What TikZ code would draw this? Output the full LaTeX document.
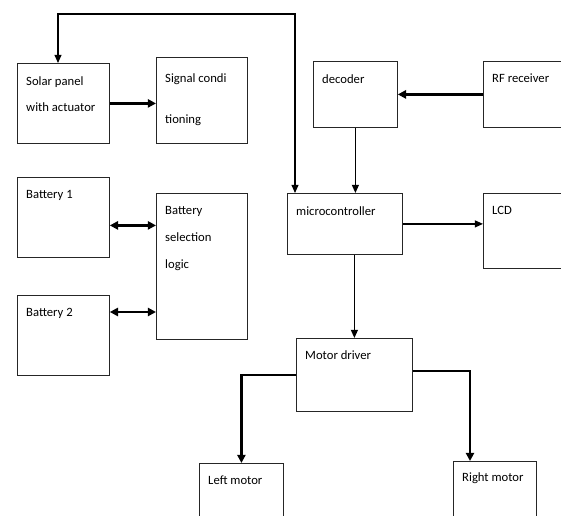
\documentclass[tikz,border=0pt]{standalone}
\usepackage{fontspec}
\setmainfont{Carlito}
\usetikzlibrary{arrows.meta,positioning,calc}
\begin{document}
\begin{tikzpicture}[
  x=0.03cm, y=-0.03cm,
  blk/.style={draw=black!85,line width=0.7pt,anchor=north west,inner sep=0pt},
  txt/.style={anchor=north west,align=left,inner sep=0pt},
  thinarr/.style={line width=1.1pt,-{Triangle[length=7pt,width=6pt]}},
  thickarr/.style={line width=2pt,-{Triangle[length=7pt,width=7pt]}},
  dblarr/.style={line width=2pt,{Triangle[length=7pt,width=7pt]}-{Triangle[length=7pt,width=7pt]}},
  font=\fontsize{10.8}{23}\selectfont
]
\useasboundingbox (0,0) rectangle (561,516);
\clip (0,0) rectangle (561,516);
% blocks: name/x/y/width/height (pixels of the sketch)
\foreach \n/\x/\y/\w/\h in {solar/17/63/92/80, sig/156/57/91/86,
    bat1/17/177/92/80, bsl/156/193/91/146, bat2/17/295/92/80,
    dec/313/61/84/66, rf/483/61/90/66, micro/287/193/115/61,
    lcd/483/193/90/75, md/296/338/116/73,
    lmot/199/463/84/70, rmot/453/461/83/70}
  \node[blk,minimum width=\w*0.03cm,minimum height=\h*0.03cm] (\n) at (\x,\y) {};
% texts
\foreach \n/\dy/\t in {solar/13/{Solar panel\\with actuator},
    sig/16/{Signal condi\\[0.45cm]tioning},
    bat1/13/{Battery 1}, bat2/13/{Battery 2},
    bsl/13/{Battery\\selection\\logic},
    dec/13/{decoder}, rf/13/{RF receiver}, micro/13/{microcontroller},
    lcd/13/{LCD}, md/12/{Motor driver}, lmot/13/{Left motor},
    rmot/11/{Right motor}}
  \node[txt] (\n-t) at ($(\n.north west)+(9,\dy)$) {\t};
% feedback loop
\coordinate (fbl) at (58,14);
\coordinate (fbr) at (295,14);
\draw[line width=1.1pt,{Triangle[length=7pt,width=6pt]}-{Triangle[length=7pt,width=6pt]}]
  (solar.north -| fbl) -- (fbl) -- (fbr) -- (micro.north -| fbr);
\draw[thickarr] (solar.east) -- (solar.east -| sig.west);
\draw[thickarr] (rf.west |- dec.east) -- (dec.east);
\draw[thinarr] (dec.south) -- (micro.north -| dec.south);
\draw[thinarr] (micro.east) -- (micro.east -| lcd.west);
\draw[thinarr] (micro.south -| md.north) -- (md.north);
% battery links
\path ($(bat1.east)+(0,8)$) coordinate (b1);
\path ($(bat2.north east)+(0,17)$) coordinate (b2);
\draw[dblarr] (b1) -- (b1 -| bsl.west);
\draw[dblarr] (b2) -- (b2 -| bsl.west);
% motors
\coordinate (rm) at (470,461);
\draw[thickarr] (md.west) -| (lmot.north);
\draw[thickarr] ($(md.east)+(0,-4)$) -| (rm);
\end{tikzpicture}
\end{document}
